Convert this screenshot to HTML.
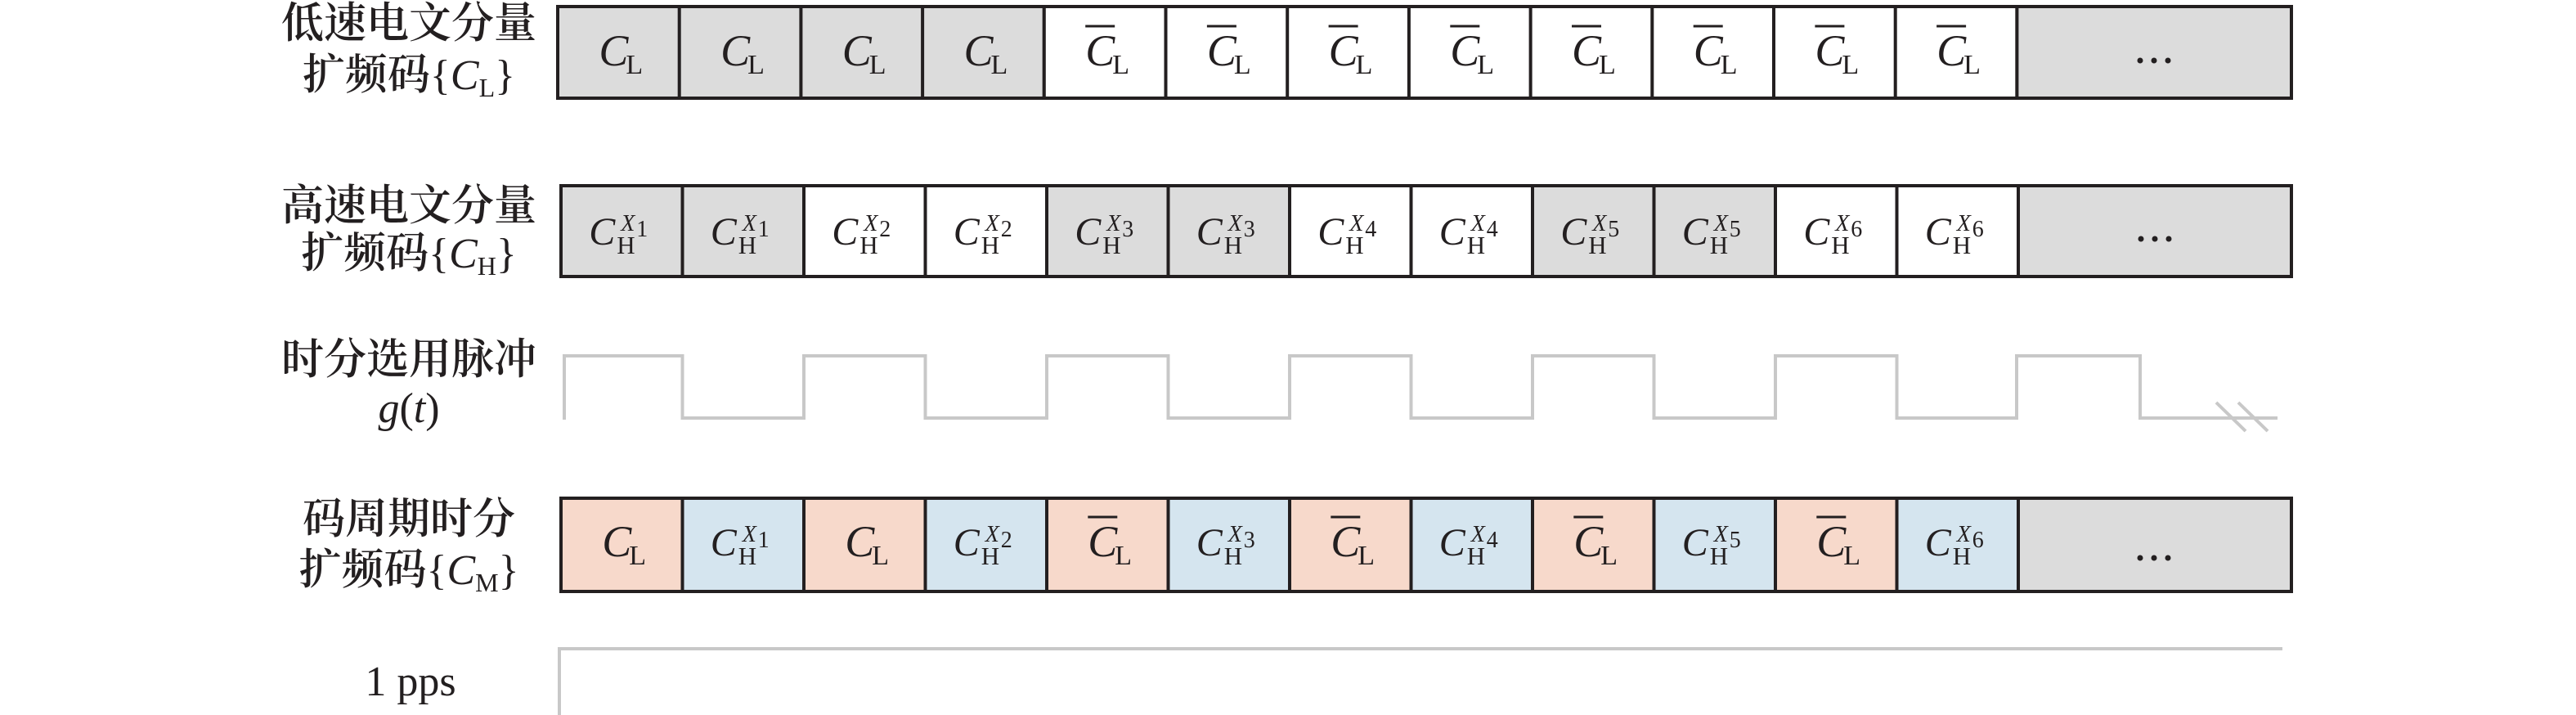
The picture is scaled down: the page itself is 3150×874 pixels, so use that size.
<!DOCTYPE html>
<html><head><meta charset="utf-8"><style>
html,body{margin:0;padding:0;background:#fff;}
svg{display:block;}
.c{font-family:"Liberation Serif",serif;font-style:italic;font-size:54px;fill:#231f20;}
.c2{font-family:"Liberation Serif",serif;font-style:italic;font-size:48px;fill:#231f20;}
.s{font-family:"Liberation Serif",serif;font-size:34px;fill:#231f20;}
.s2{font-family:"Liberation Serif",serif;font-size:31px;fill:#231f20;}
.x{font-family:"Liberation Serif",serif;font-style:italic;font-size:28px;fill:#231f20;}
.d{font-family:"Liberation Serif",serif;font-size:28px;fill:#231f20;}
.lab{font-family:"Liberation Serif","Noto Serif CJK SC",serif;font-size:52px;font-weight:600;fill:#231f20;}
.lab2{font-family:"Liberation Serif",serif;font-size:52px;fill:#231f20;}
.box{stroke:#231f20;stroke-width:4;}
</style></head><body>
<svg width="3150" height="874" viewBox="0 0 3150 874" xmlns="http://www.w3.org/2000/svg">
<defs>
<g id="cl"><text class="c" x="-24" y="16">C</text><text class="s" x="9" y="26">L</text></g>
<g id="clb"><use href="#cl"/><line x1="-24" y1="-32" x2="12" y2="-32" stroke="#231f20" stroke-width="3"/></g>
</defs>

<!-- labels -->
<text class="lab" x="500" y="46" text-anchor="middle">低速电文分量</text>
<text class="lab" x="500" y="109" text-anchor="middle">扩频码<tspan font-weight="400">{</tspan><tspan font-style="italic" font-weight="400">C</tspan><tspan font-size="32" dy="9" font-weight="400">L</tspan><tspan dy="-9" font-weight="400">}</tspan></text>
<text class="lab" x="500" y="269" text-anchor="middle">高速电文分量</text>
<text class="lab" x="500" y="327" text-anchor="middle">扩频码<tspan font-weight="400">{</tspan><tspan font-style="italic" font-weight="400">C</tspan><tspan font-size="32" dy="9" font-weight="400">H</tspan><tspan dy="-9" font-weight="400">}</tspan></text>
<text class="lab" x="500" y="457" text-anchor="middle">时分选用脉冲</text>
<text class="lab2" x="500" y="516" text-anchor="middle" font-style="italic">g<tspan font-style="normal">(</tspan>t<tspan font-style="normal">)</tspan></text>
<text class="lab" x="500" y="652" text-anchor="middle">码周期时分</text>
<text class="lab" x="500" y="714" text-anchor="middle">扩频码<tspan font-weight="400">{</tspan><tspan font-style="italic" font-weight="400">C</tspan><tspan font-size="32" dy="9" font-weight="400">M</tspan><tspan dy="-9" font-weight="400">}</tspan></text>
<text class="lab2" x="502" y="850" text-anchor="middle">1 pps</text>

<!-- Row 1 -->
<g class="box">
<rect x="682" y="8" width="594.8" height="112" fill="#dcdcdc"/>
<rect x="1276.8" y="8" width="1189.6" height="112" fill="#fff"/>
<rect x="2466.4" y="8" width="335.6" height="112" fill="#dcdcdc"/>
<line x1="830.7" y1="8" x2="830.7" y2="120"/><line x1="979.4" y1="8" x2="979.4" y2="120"/><line x1="1128.1" y1="8" x2="1128.1" y2="120"/>
<line x1="1425.5" y1="8" x2="1425.5" y2="120"/><line x1="1574.2" y1="8" x2="1574.2" y2="120"/><line x1="1722.9" y1="8" x2="1722.9" y2="120"/><line x1="1871.6" y1="8" x2="1871.6" y2="120"/><line x1="2020.3" y1="8" x2="2020.3" y2="120"/><line x1="2169" y1="8" x2="2169" y2="120"/><line x1="2317.7" y1="8" x2="2317.7" y2="120"/>
</g>
<use href="#cl" x="756.4" y="64"/><use href="#cl" x="905.1" y="64"/><use href="#cl" x="1053.8" y="64"/><use href="#cl" x="1202.5" y="64"/>
<use href="#clb" x="1351.2" y="64"/><use href="#clb" x="1499.9" y="64"/><use href="#clb" x="1648.6" y="64"/><use href="#clb" x="1797.3" y="64"/>
<use href="#clb" x="1946" y="64"/><use href="#clb" x="2094.7" y="64"/><use href="#clb" x="2243.4" y="64"/><use href="#clb" x="2392.1" y="64"/>
<g fill="#231f20"><circle cx="2617" cy="74" r="3.5"/><circle cx="2634" cy="74" r="3.5"/><circle cx="2651" cy="74" r="3.5"/></g>

<!-- Row 2 -->
<g class="box">
<rect x="686" y="227" width="297" height="111" fill="#dcdcdc"/>
<rect x="983" y="227" width="297" height="111" fill="#fff"/>
<rect x="1280" y="227" width="297" height="111" fill="#dcdcdc"/>
<rect x="1577" y="227" width="297" height="111" fill="#fff"/>
<rect x="1874" y="227" width="297" height="111" fill="#dcdcdc"/>
<rect x="2171" y="227" width="297" height="111" fill="#fff"/>
<rect x="2468" y="227" width="334" height="111" fill="#dcdcdc"/>
<line x1="834.5" y1="227" x2="834.5" y2="338"/><line x1="1131.5" y1="227" x2="1131.5" y2="338"/><line x1="1428.5" y1="227" x2="1428.5" y2="338"/><line x1="1725.5" y1="227" x2="1725.5" y2="338"/><line x1="2022.5" y1="227" x2="2022.5" y2="338"/><line x1="2319.5" y1="227" x2="2319.5" y2="338"/>
</g>
<g transform="translate(760.3,282)"><text class="c2" x="-40" y="17">C</text><text class="s2" x="-6" y="28">H</text><text class="x" x="-1" y="0">X</text><text class="d" x="18" y="7">1</text></g>
<g transform="translate(908.8,282)"><text class="c2" x="-40" y="17">C</text><text class="s2" x="-6" y="28">H</text><text class="x" x="-1" y="0">X</text><text class="d" x="18" y="7">1</text></g>
<g transform="translate(1057.3,282)"><text class="c2" x="-40" y="17">C</text><text class="s2" x="-6" y="28">H</text><text class="x" x="-1" y="0">X</text><text class="d" x="18" y="7">2</text></g>
<g transform="translate(1205.8,282)"><text class="c2" x="-40" y="17">C</text><text class="s2" x="-6" y="28">H</text><text class="x" x="-1" y="0">X</text><text class="d" x="18" y="7">2</text></g>
<g transform="translate(1354.3,282)"><text class="c2" x="-40" y="17">C</text><text class="s2" x="-6" y="28">H</text><text class="x" x="-1" y="0">X</text><text class="d" x="18" y="7">3</text></g>
<g transform="translate(1502.8,282)"><text class="c2" x="-40" y="17">C</text><text class="s2" x="-6" y="28">H</text><text class="x" x="-1" y="0">X</text><text class="d" x="18" y="7">3</text></g>
<g transform="translate(1651.3,282)"><text class="c2" x="-40" y="17">C</text><text class="s2" x="-6" y="28">H</text><text class="x" x="-1" y="0">X</text><text class="d" x="18" y="7">4</text></g>
<g transform="translate(1799.8,282)"><text class="c2" x="-40" y="17">C</text><text class="s2" x="-6" y="28">H</text><text class="x" x="-1" y="0">X</text><text class="d" x="18" y="7">4</text></g>
<g transform="translate(1948.3,282)"><text class="c2" x="-40" y="17">C</text><text class="s2" x="-6" y="28">H</text><text class="x" x="-1" y="0">X</text><text class="d" x="18" y="7">5</text></g>
<g transform="translate(2096.8,282)"><text class="c2" x="-40" y="17">C</text><text class="s2" x="-6" y="28">H</text><text class="x" x="-1" y="0">X</text><text class="d" x="18" y="7">5</text></g>
<g transform="translate(2245.3,282)"><text class="c2" x="-40" y="17">C</text><text class="s2" x="-6" y="28">H</text><text class="x" x="-1" y="0">X</text><text class="d" x="18" y="7">6</text></g>
<g transform="translate(2393.8,282)"><text class="c2" x="-40" y="17">C</text><text class="s2" x="-6" y="28">H</text><text class="x" x="-1" y="0">X</text><text class="d" x="18" y="7">6</text></g>
<g fill="#231f20"><circle cx="2618" cy="292" r="3.5"/><circle cx="2635" cy="292" r="3.5"/><circle cx="2652" cy="292" r="3.5"/></g>

<!-- Pulse -->
<path d="M690,513 V435 H834.5 V511 H983 V435 H1131.5 V511 H1280 V435 H1428.5 V511 H1577 V435 H1725.5 V511 H1874 V435 H2022.5 V511 H2171 V435 H2319.5 V511 H2466 V435 H2617 V511 H2785" fill="none" stroke="#c8c8c8" stroke-width="4"/>
<line x1="2710" y1="492" x2="2746" y2="527" stroke="#c8c8c8" stroke-width="4"/>
<line x1="2737" y1="492" x2="2773" y2="527" stroke="#c8c8c8" stroke-width="4"/>

<!-- Row 4 -->
<g class="box">
<rect x="686" y="609" width="1782" height="114" fill="#f7d9cb"/>
<rect x="834.5" y="609" width="148.5" height="114" fill="#d5e5ef"/>
<rect x="1131.5" y="609" width="148.5" height="114" fill="#d5e5ef"/>
<rect x="1428.5" y="609" width="148.5" height="114" fill="#d5e5ef"/>
<rect x="1725.5" y="609" width="148.5" height="114" fill="#d5e5ef"/>
<rect x="2022.5" y="609" width="148.5" height="114" fill="#d5e5ef"/>
<rect x="2319.5" y="609" width="148.5" height="114" fill="#d5e5ef"/>
<rect x="2468" y="609" width="334" height="114" fill="#dcdcdc"/>
<rect x="686" y="609" width="1782" height="114" fill="none"/>
</g>
<use href="#cl" x="760.3" y="664"/>
<use href="#cl" x="1057.3" y="664"/>
<use href="#clb" x="1354.3" y="664"/>
<use href="#clb" x="1651.3" y="664"/>
<use href="#clb" x="1948.3" y="664"/>
<use href="#clb" x="2245.3" y="664"/>
<g transform="translate(908.8,664)"><text class="c2" x="-40" y="15">C</text><text class="s2" x="-6" y="26">H</text><text class="x" x="-1" y="-2">X</text><text class="d" x="18" y="5">1</text></g>
<g transform="translate(1205.8,664)"><text class="c2" x="-40" y="15">C</text><text class="s2" x="-6" y="26">H</text><text class="x" x="-1" y="-2">X</text><text class="d" x="18" y="5">2</text></g>
<g transform="translate(1502.8,664)"><text class="c2" x="-40" y="15">C</text><text class="s2" x="-6" y="26">H</text><text class="x" x="-1" y="-2">X</text><text class="d" x="18" y="5">3</text></g>
<g transform="translate(1799.8,664)"><text class="c2" x="-40" y="15">C</text><text class="s2" x="-6" y="26">H</text><text class="x" x="-1" y="-2">X</text><text class="d" x="18" y="5">4</text></g>
<g transform="translate(2096.8,664)"><text class="c2" x="-40" y="15">C</text><text class="s2" x="-6" y="26">H</text><text class="x" x="-1" y="-2">X</text><text class="d" x="18" y="5">5</text></g>
<g transform="translate(2393.8,664)"><text class="c2" x="-40" y="15">C</text><text class="s2" x="-6" y="26">H</text><text class="x" x="-1" y="-2">X</text><text class="d" x="18" y="5">6</text></g>
<g fill="#231f20"><circle cx="2617" cy="682" r="3.5"/><circle cx="2634" cy="682" r="3.5"/><circle cx="2651" cy="682" r="3.5"/></g>

<!-- 1 pps -->
<path d="M684,874 V793 H2791" fill="none" stroke="#c8c8c8" stroke-width="4"/>
</svg>
</body></html>
